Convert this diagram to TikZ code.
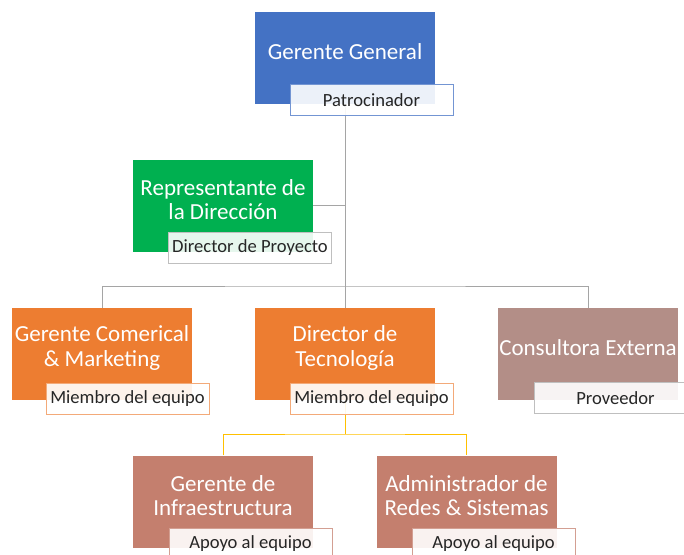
\documentclass[tikz,border=0pt]{standalone}
\usepackage{fontspec}
\setmainfont{Carlito}
\definecolor{ggblue}{HTML}{4472C4}
\definecolor{rdgreen}{HTML}{00B050}
\definecolor{teamorange}{HTML}{ED7D31}
\definecolor{consmauve}{HTML}{B38E87}
\definecolor{supsalmon}{HTML}{C47F6E}
\definecolor{linegray}{HTML}{A5A5A5}
\definecolor{lineyellow}{HTML}{FFC000}
\definecolor{rolegray}{HTML}{BFBFBF}

\begin{document}
\begin{tikzpicture}[x=1pt,y=-1pt,
  box/.style={rectangle,minimum width=180pt,minimum height=92pt,inner sep=0pt},
  boxtext/.style={text=white,align=center,inner sep=0pt,font=\fontsize{23}{24.5}\selectfont},
  role/.style={rectangle,draw=#1,line width=0.8pt,minimum width=163pt,minimum height=31pt,
    inner sep=0pt,fill=white,fill opacity=0.9,text opacity=1,text=black!85,
    font=\fontsize{18.6}{20}\selectfont},
  link/.style={draw=linegray,line width=1pt},
  tlink/.style={draw=lineyellow,line width=1pt}]
\clip (0,0) rectangle (684,554);

% Boxes
\node[box,fill=ggblue] (gg) at (345,58) {};
\node[box,fill=rdgreen] (rd) at (223,205.5) {};
\node[box,fill=teamorange] (gc) at (102,354) {};
\node[box,fill=teamorange] (dt) at (345,354) {};
\node[box,fill=consmauve] (ce) at (588,354) {};
\node[box,fill=supsalmon] (gi) at (223,501.5) {};
\node[box,fill=supsalmon] (ar) at (466.5,501.5) {};

% Box titles
\node[boxtext] (ggt) at ([yshift=6pt]gg.center) {Gerente General};
\node[boxtext] (rdt) at ([yshift=6pt]rd.center) {Representante de\\la Dirección};
\node[boxtext] (gct) at ([yshift=6pt]gc.center) {Gerente Comerical\\\& Marketing};
\node[boxtext] (dtt) at ([yshift=6pt]dt.center) {Director de\\Tecnología};
\node[boxtext] (cet) at ([yshift=6pt]ce.center) {Consultora Externa};
\node[boxtext] (git) at ([yshift=6pt]gi.center) {Gerente de\\Infraestructura};
\node[boxtext] (art) at ([yshift=6pt]ar.center) {Administrador de\\Redes \& Sistemas};

% Connectors
\coordinate (bus) at (345,286);
\coordinate (tbus) at (345,434);
\draw[link] (gg.south) -- (bus);
\draw[link] (rd.east) -- (rd.east -| gg.south);
\draw[link] (gc.north) |- (bus) -| (ce.north);
\draw[link] (bus) -- (dt.north);
\draw[tlink] (dt.south) -- (tbus);
\draw[tlink] (gi.north) |- (tbus) -| (ar.north);

% Role labels
\node[role=ggblue!75] (ggr) at (371.5,100) {Patrocinador};
\node[role=rolegray] (rdr) at (250,247.5) {Director de Proyecto};
\node[role=teamorange!65] (gcr) at (127.5,398.5) {Miembro del equipo};
\node[role=teamorange!65] (dtr) at (371.5,398.5) {Miembro del equipo};
\node[role=rolegray] (cer) at (615.5,398) {Proveedor};
\node[role=supsalmon!75] (gir) at (250.5,544) {Apoyo al equipo};
\node[role=supsalmon!75] (arr) at (493.5,544) {Apoyo al equipo};
\end{tikzpicture}
\end{document}
